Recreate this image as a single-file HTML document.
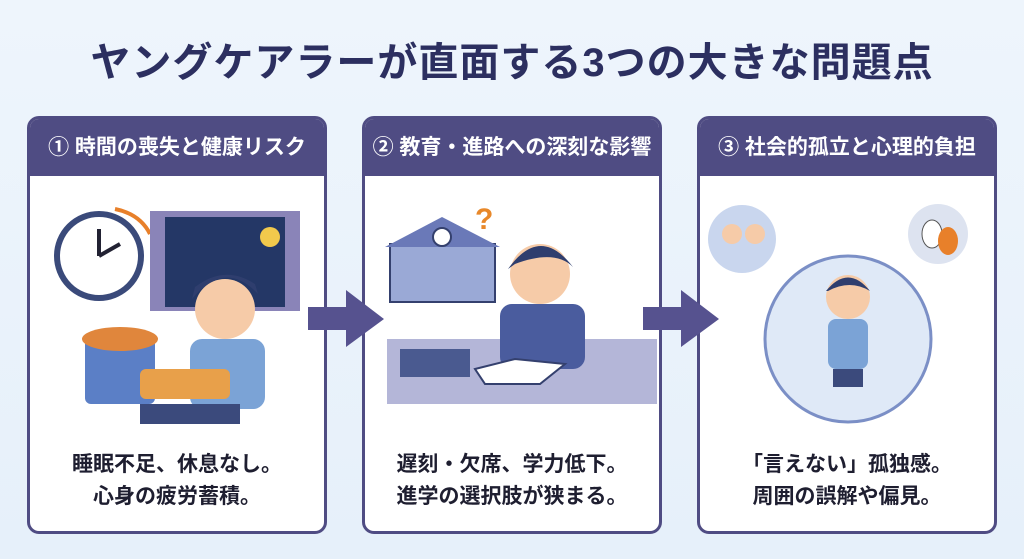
<!DOCTYPE html>
<html><head><meta charset="utf-8"><style>
body{margin:0;width:1024px;height:559px;overflow:hidden;background:linear-gradient(#eef5fc,#e6f0fa);font-family:"Liberation Sans","Noto Sans CJK JP",sans-serif;position:relative}
.t{position:absolute;top:30px;left:0;width:1024px;text-align:center;font-size:40px;font-weight:bold;color:#2c2f60;letter-spacing:1px}
.p{position:absolute;top:116px;width:294px;height:412px;border:3px solid #4f4c83;border-radius:12px;background:#fff;overflow:hidden}
.h{height:57px;background:#4f4c83;color:#fff;font-size:21px;font-weight:bold;line-height:57px;text-align:center}
.c{position:absolute;top:330px;left:0;width:100%;text-align:center;font-size:21px;font-weight:bold;color:#1e1e30;line-height:32px}
.a{position:absolute;top:290px}
svg.i{position:absolute;top:60px;left:0}
</style></head><body>
<div class="t">ヤングケアラーが直面する3つの大きな問題点</div>
<div class="p" style="left:27px"><div class="h">① 時間の喪失と健康リスク</div>
<svg class="i" width="294" height="250">
<circle cx="69" cy="77" r="42" fill="#fff" stroke="#3a4a7a" stroke-width="6"/><line x1="69" y1="77" x2="69" y2="50" stroke="#223" stroke-width="4"/><line x1="69" y1="77" x2="90" y2="65" stroke="#223" stroke-width="4"/>
<path d="M85 30 Q110 35 120 55" stroke="#e8802a" stroke-width="4" fill="none"/>
<rect x="120" y="32" width="150" height="100" fill="#8a84b8"/><rect x="135" y="38" width="120" height="90" fill="#243766"/><circle cx="240" cy="58" r="10" fill="#f2c94c"/>
<rect x="55" y="160" width="70" height="65" rx="6" fill="#5b7fc6"/><ellipse cx="90" cy="160" rx="38" ry="12" fill="#e0863c"/>
<circle cx="195" cy="130" r="30" fill="#f6cba8"/><path d="M162 120 Q195 80 228 115 L225 105 Q195 85 165 108Z" fill="#2f3e6e"/>
<rect x="160" y="160" width="75" height="70" rx="12" fill="#7ba3d6"/><rect x="110" y="190" width="90" height="30" rx="6" fill="#e8a04a"/><rect x="110" y="225" width="100" height="20" fill="#3b4a7c"/>
</svg>
<div class="c">睡眠不足、休息なし。<br>心身の疲労蓄積。</div></div>
<div class="p" style="left:362px"><div class="h">② 教育・進路への深刻な影響</div>
<svg class="i" width="294" height="250">
<rect x="25" y="65" width="105" height="58" fill="#9aa9d6" stroke="#34406e" stroke-width="2"/><polygon points="20,68 77,38 135,68" fill="#6a79b8"/><circle cx="77" cy="58" r="9" fill="#fff" stroke="#34406e" stroke-width="2"/>
<text x="110" y="50" font-size="30" font-weight="bold" fill="#e8882a">?</text>
<rect x="22" y="160" width="270" height="65" fill="#b4b6d8"/>
<circle cx="175" cy="95" r="30" fill="#f6cba8"/><path d="M143 90 Q175 45 208 88 Q190 70 150 85Z" fill="#2f3e6e"/>
<rect x="135" y="125" width="85" height="65" rx="12" fill="#4a5c9e"/>
<rect x="35" y="170" width="70" height="14" fill="#4a5a90"/><rect x="35" y="184" width="70" height="14" fill="#4a5a90"/>
<polygon points="110,190 150,180 200,185 175,205 120,205" fill="#fff" stroke="#34406e" stroke-width="2"/>
</svg>
<div class="c">遅刻・欠席、学力低下。<br>進学の選択肢が狭まる。</div></div>
<div class="p" style="left:697px"><div class="h">③ 社会的孤立と心理的負担</div>
<svg class="i" width="294" height="250">
<circle cx="42" cy="60" r="34" fill="#c9d6ee"/><circle cx="32" cy="55" r="10" fill="#f6cba8"/><circle cx="55" cy="55" r="10" fill="#f6cba8"/>
<circle cx="238" cy="55" r="30" fill="#dde3f0"/><ellipse cx="232" cy="55" rx="10" ry="14" fill="#fff" stroke="#555"/><ellipse cx="248" cy="62" rx="10" ry="14" fill="#e8802a"/>
<circle cx="148" cy="160" r="83" fill="#dfe9f7" stroke="#7b8fc6" stroke-width="3"/>
<circle cx="148" cy="118" r="22" fill="#f6cba8"/><path d="M126 112 Q148 85 170 112 Q150 100 128 112Z" fill="#2f3e6e"/>
<rect x="128" y="140" width="40" height="50" rx="8" fill="#7ba3d6"/><rect x="133" y="190" width="30" height="18" fill="#3b4a7c"/>
</svg>
<div class="c">「言えない」孤独感。<br>周囲の誤解や偏見。</div></div>
<svg class="a" style="left:308px" width="78" height="58"><polygon points="0,17 38,17 38,0 76,29 38,57 38,40 0,40" fill="#56528f"/></svg>
<svg class="a" style="left:643px" width="78" height="58"><polygon points="0,17 38,17 38,0 76,29 38,57 38,40 0,40" fill="#56528f"/></svg>
</body></html>
